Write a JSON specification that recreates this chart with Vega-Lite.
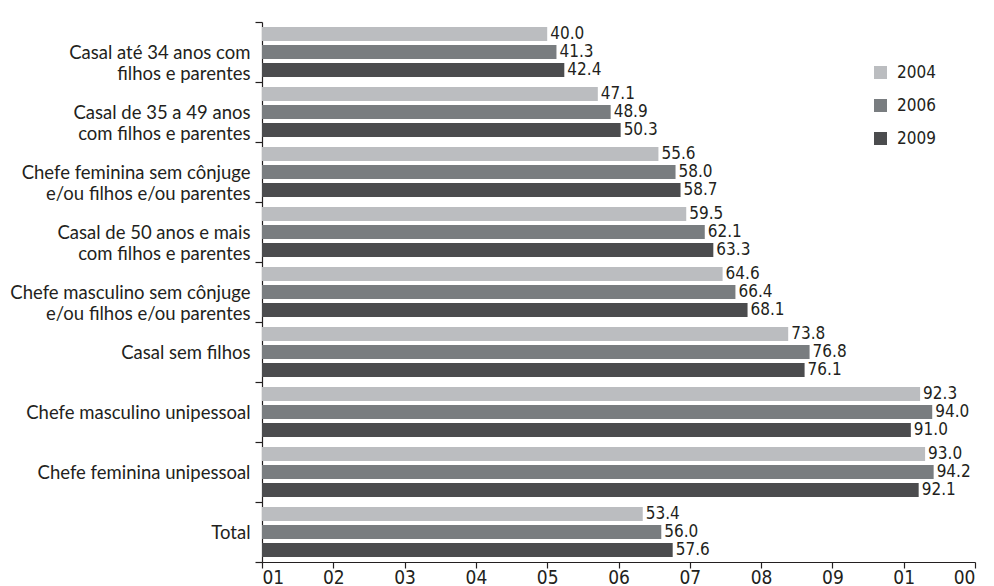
{
  "$schema": "https://vega.github.io/schema/vega-lite/v6.json",
  "width": 713,
  "height": 540,
  "autosize": {"type": "none"},
  "padding": {"left": 262, "top": 22, "right": 19, "bottom": 24},
  "background": "white",
  "config": {
    "view": {"stroke": null},
    "font": "Lato"
  },
  "data": {
    "values": [
      {"grupo": "Casal até 34 anos com|filhos e parentes", "ano": "2004", "valor": 40.0},
      {"grupo": "Casal até 34 anos com|filhos e parentes", "ano": "2006", "valor": 41.3},
      {"grupo": "Casal até 34 anos com|filhos e parentes", "ano": "2009", "valor": 42.4},
      {"grupo": "Casal de 35 a 49 anos|com filhos e parentes", "ano": "2004", "valor": 47.1},
      {"grupo": "Casal de 35 a 49 anos|com filhos e parentes", "ano": "2006", "valor": 48.9},
      {"grupo": "Casal de 35 a 49 anos|com filhos e parentes", "ano": "2009", "valor": 50.3},
      {"grupo": "Chefe feminina sem cônjuge|e/ou filhos e/ou parentes", "ano": "2004", "valor": 55.6},
      {"grupo": "Chefe feminina sem cônjuge|e/ou filhos e/ou parentes", "ano": "2006", "valor": 58.0},
      {"grupo": "Chefe feminina sem cônjuge|e/ou filhos e/ou parentes", "ano": "2009", "valor": 58.7},
      {"grupo": "Casal de 50 anos e mais|com filhos e parentes", "ano": "2004", "valor": 59.5},
      {"grupo": "Casal de 50 anos e mais|com filhos e parentes", "ano": "2006", "valor": 62.1},
      {"grupo": "Casal de 50 anos e mais|com filhos e parentes", "ano": "2009", "valor": 63.3},
      {"grupo": "Chefe masculino sem cônjuge|e/ou filhos e/ou parentes", "ano": "2004", "valor": 64.6},
      {"grupo": "Chefe masculino sem cônjuge|e/ou filhos e/ou parentes", "ano": "2006", "valor": 66.4},
      {"grupo": "Chefe masculino sem cônjuge|e/ou filhos e/ou parentes", "ano": "2009", "valor": 68.1},
      {"grupo": "Casal sem filhos", "ano": "2004", "valor": 73.8},
      {"grupo": "Casal sem filhos", "ano": "2006", "valor": 76.8},
      {"grupo": "Casal sem filhos", "ano": "2009", "valor": 76.1},
      {"grupo": "Chefe masculino unipessoal", "ano": "2004", "valor": 92.3},
      {"grupo": "Chefe masculino unipessoal", "ano": "2006", "valor": 94.0},
      {"grupo": "Chefe masculino unipessoal", "ano": "2009", "valor": 91.0},
      {"grupo": "Chefe feminina unipessoal", "ano": "2004", "valor": 93.0},
      {"grupo": "Chefe feminina unipessoal", "ano": "2006", "valor": 94.2},
      {"grupo": "Chefe feminina unipessoal", "ano": "2009", "valor": 92.1},
      {"grupo": "Total", "ano": "2004", "valor": 53.4},
      {"grupo": "Total", "ano": "2006", "valor": 56.0},
      {"grupo": "Total", "ano": "2009", "valor": 57.6}
    ]
  },
  "encoding": {
    "y": {
      "field": "grupo",
      "type": "nominal",
      "sort": null,
      "scale": {"paddingInner": 0, "paddingOuter": 0},
      "axis": {
        "title": null,
        "labelExpr": "split(datum.label, '|')",
        "labelFontSize": 18.5,
        "labelColor": "#231f20",
        "labelLineHeight": 21,
        "labelPadding": 5,
        "labelLimit": 300,
        "tickSize": 7,
        "tickBand": "extent",
        "tickColor": "#231f20",
        "domainColor": "#231f20",
        "tickWidth": 1.2,
        "domainWidth": 1.2
      }
    },
    "yOffset": {
      "field": "ano",
      "type": "nominal",
      "scale": {"paddingInner": 0.222, "paddingOuter": 0.278}
    },
    "x": {
      "field": "valor",
      "type": "quantitative",
      "scale": {"domain": [0, 100], "nice": false},
      "axis": {
        "title": null,
        "grid": false,
        "values": [0, 10, 20, 30, 40, 50, 60, 70, 80, 90, 100],
        "labelExpr": "['01','02','03','04','05','06','07','08','09','01','00'][round(datum.value / 10)]",
        "labelFont": "Liberation Sans Narrow, DejaVu Sans Condensed, Lato",
        "labelFontSize": 19,
        "labelColor": "#231f20",
        "labelPadding": 0,
        "tickSize": 6,
        "tickColor": "#231f20",
        "domainColor": "#231f20",
        "tickWidth": 1.2,
        "domainWidth": 1.2
      }
    }
  },
  "layer": [
    {
      "mark": {"type": "bar"},
      "encoding": {
        "color": {
          "field": "ano",
          "type": "nominal",
          "scale": {"domain": ["2004", "2006", "2009"], "range": ["#bbbdc0", "#797d80", "#4b4c4e"]},
          "legend": {
            "title": null,
            "orient": "none",
            "legendX": 610,
            "legendY": 42,
            "symbolType": "square",
            "symbolSize": 169,
            "symbolStrokeWidth": 0,
            "labelFont": "Liberation Sans Narrow, DejaVu Sans Condensed, Lato",
            "labelFontSize": 17,
            "labelColor": "#231f20",
            "labelOffset": 8,
            "rowPadding": 15
          }
        }
      }
    },
    {
      "mark": {
        "type": "text",
        "align": "left",
        "baseline": "middle",
        "dx": 3,
        "font": "Liberation Sans Narrow, DejaVu Sans Condensed, Lato",
        "fontSize": 17,
        "color": "#231f20"
      },
      "encoding": {
        "text": {"field": "valor", "type": "quantitative", "format": ".1f"}
      }
    }
  ]
}
